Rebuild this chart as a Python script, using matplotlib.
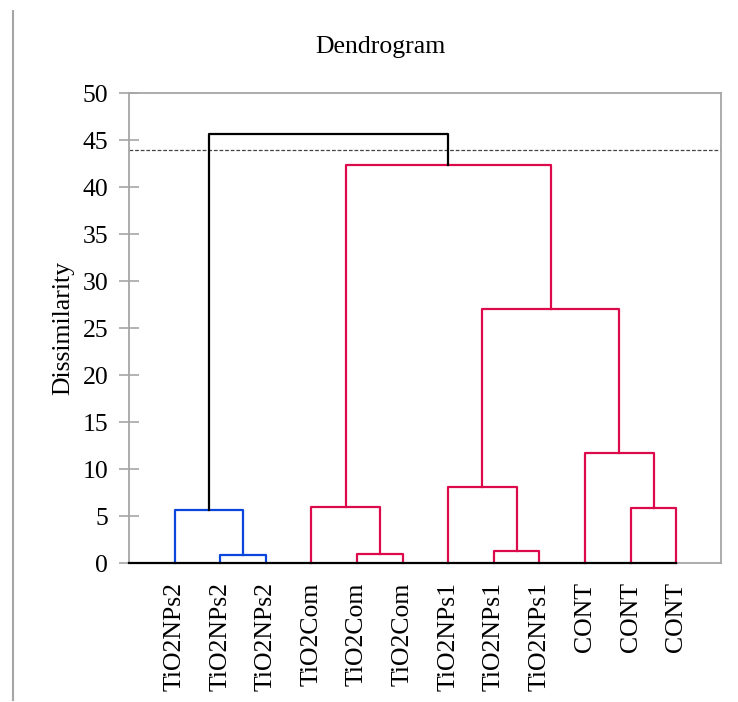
import matplotlib
matplotlib.use("Agg")
import matplotlib.pyplot as plt
from matplotlib.lines import Line2D

plt.rcParams['font.family'] = ['Liberation Serif', 'DejaVu Serif']

# Leaf labels, in dendrogram order
labels = ["TiO2NPs2", "TiO2NPs2", "TiO2NPs2",
          "TiO2Com", "TiO2Com", "TiO2Com",
          "TiO2NPs1", "TiO2NPs1", "TiO2NPs1",
          "CONT", "CONT", "CONT"]

# Merges: new node ids start at len(labels)
merge_left = [1, 0, 4, 3, 7, 6, 10, 9, 17, 15, 13]
merge_right = [2, 12, 5, 14, 8, 16, 11, 18, 19, 20, 21]
merge_height = [0.85, 5.6, 0.95, 6.0, 1.3, 8.1, 5.85, 11.7, 27.0, 42.3, 45.6]
merge_group = ["blue", "blue", "red", "red", "red", "red", "red", "red",
               "red", "red", "black"]

cut_level = 43.9

colors = {"blue": "#0a46dc", "red": "#dc0a4b", "black": "black"}

fig = plt.figure(figsize=(7.38, 7.02), dpi=100)
ax = fig.add_axes([0.1748, 0.198, 0.8022, 0.6695])

n = len(labels)
xpos = {i: i + 1 for i in range(n)}
ypos = {i: 0.0 for i in range(n)}
for k, (a, b, h) in enumerate(zip(merge_left, merge_right, merge_height)):
    node = n + k
    xa, xb = xpos[a], xpos[b]
    ax.plot([xa, xa, xb, xb], [ypos[a], h, h, ypos[b]],
            color=colors[merge_group[k]], lw=1.6, clip_on=False, zorder=3)
    xpos[node] = (xa + xb) / 2
    ypos[node] = h

# baseline under the leaves
ax.plot([0, n], [0, 0], color="black", lw=1.6, clip_on=False, zorder=4)
ax.axhline(cut_level, color="#444444", lw=0.9, ls=(0, (3, 1.5)), zorder=1)

ax.set_xlim(0, 12.98)
ax.set_ylim(0, 50)
ax.set_yticks(range(0, 51, 5))
ax.set_xticks(range(1, n + 1))
ax.set_xticklabels(labels, rotation=90, va="top", ha="center")
ax.tick_params(axis="x", length=0, pad=14, labelsize=18.5)
ax.tick_params(axis="y", direction="inout", length=14, width=1.2,
               color="#a6a6a6", pad=8, labelsize=18.5)
for s in ax.spines.values():
    s.set_color("#a6a6a6")
    s.set_linewidth(1.3)

ax.set_ylabel("Dissimilarity", fontsize=18.5)
ax.yaxis.set_label_coords(-0.092, 0.5)
fig.text(0.516, 0.933, "Dendrogram", ha="center", va="center", fontsize=18.5)

# frame line at the left of the picture
fig.add_artist(Line2D([0.0176, 0.0176], [0.003, 0.985], color="#a6a6a6",
                      lw=1.5, transform=fig.transFigure))

fig.savefig("out.png", dpi=100)
